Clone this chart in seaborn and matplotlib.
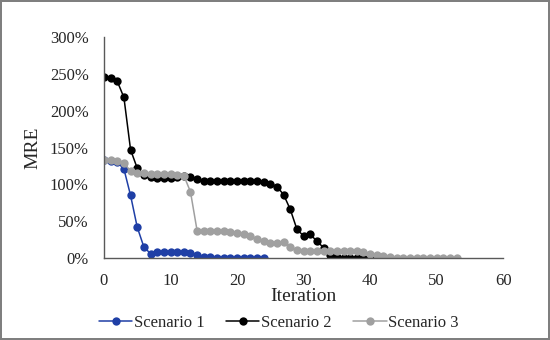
import numpy as np
import pandas as pd
import matplotlib
matplotlib.use("Agg")
import matplotlib.pyplot as plt
import seaborn as sns

# ── Data (MRE in %) ────────────────────────────────
SCENARIO_1 = [133, 132, 130, 121, 85, 42, 15, 6, 8, 8, 8, 8, 8, 7, 4, 2,
              1, 0.5, 0.5, 0.5, 0.5, 0.5, 0.5, 0.5, 0.5]
SCENARIO_2 = [246, 245, 240, 218, 147, 122, 113, 110, 109, 109, 109, 110,
              111, 110, 107, 104, 104, 104, 104, 104, 104, 104, 104, 104,
              103, 101, 97, 86, 66, 39, 30, 32, 23, 14, 4, 1, 0, 0, 0, 0,
              0, 0, 0]
SCENARIO_3 = [133, 133, 132, 129, 118, 116, 115, 114, 114, 114, 114, 113,
              112, 90, 37, 37, 37, 37, 36.5, 36, 34.5, 33, 30, 26, 23, 21,
              21, 22, 15, 11, 10, 10, 10, 10, 10, 10, 10, 10, 9, 8, 6, 4, 3,
              1, 0.5, 0, 0, 0, 0, 0, 0, 0, 0, 0]
SERIES = ["Scenario 1", "Scenario 2", "Scenario 3"]
COLORS = ["#1f3fa6", "#000000", "#a0a0a0"]
X_TICKS = [0, 10, 20, 30, 40, 50, 60]
Y_TICKS = [0, 0.5, 1.0, 1.5, 2.0, 2.5, 3.0]

frames = []
for name, vals in zip(SERIES, [SCENARIO_1, SCENARIO_2, SCENARIO_3]):
    frames.append(pd.DataFrame({
        "Iteration": np.arange(len(vals)),
        "MRE": np.array(vals) / 100.0,
        "Scenario": name,
    }))
df = pd.concat(frames, ignore_index=True)

sns.set_style("white")
plt.rcParams["font.family"] = ["Liberation Serif", "DejaVu Serif"]

fig = plt.figure(figsize=(5.5, 3.4), dpi=100)
fig.patch.set_edgecolor("#7f7f7f")
fig.patch.set_linewidth(1.5)
ax = fig.add_axes([0.189, 0.241, 0.726, 0.65])

sns.lineplot(data=df, x="Iteration", y="MRE", hue="Scenario",
             palette=COLORS, marker="o", markersize=6, markeredgewidth=0,
             linewidth=1.1, ax=ax, legend=True)

ax.set_xlim(0, 60)
ax.set_ylim(0, 3.0)
ax.set_xticks(X_TICKS)
ax.set_yticks(Y_TICKS)
ax.set_yticklabels([f"{int(round(v * 100))}%" for v in Y_TICKS])
ax.set_xlabel("Iteration", fontsize=14, labelpad=-1)
ax.set_ylabel("MRE", fontsize=14, labelpad=6)
ax.tick_params(axis="both", labelsize=12, direction="in", length=4,
               color="#595959", width=1)
ax.tick_params(axis="x", pad=11)
ax.tick_params(axis="y", pad=11)

for side in ["top", "right"]:
    ax.spines[side].set_visible(False)
for side in ["left", "bottom"]:
    ax.spines[side].set_color("#595959")
    ax.spines[side].set_linewidth(1)

handles, labels = ax.get_legend_handles_labels()
ax.legend_.remove()
fig.legend(handles, labels, loc="center", bbox_to_anchor=(0.507, 0.05),
           ncol=3, frameon=False, fontsize=12, handlelength=2.0,
           handletextpad=0.1, columnspacing=1.3, borderaxespad=0)

fig.savefig("out.png", dpi=100, edgecolor=fig.get_edgecolor())
